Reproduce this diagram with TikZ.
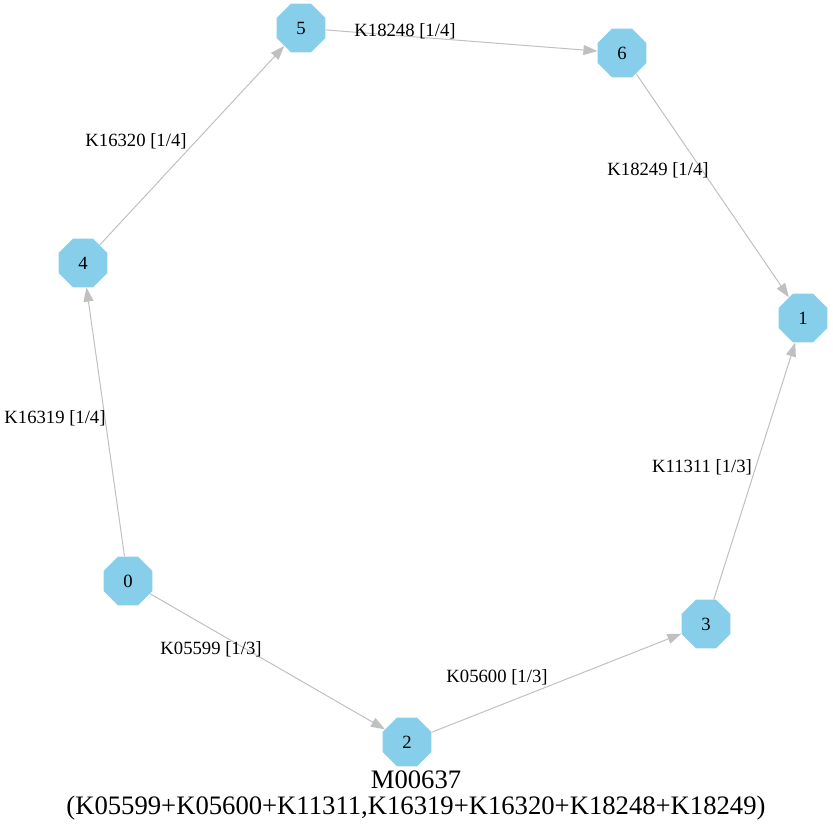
\documentclass[tikz,border=0pt]{standalone}
\usepackage{fontspec}
\setmainfont{Liberation Serif}
\usetikzlibrary{arrows.meta,shapes.geometric}
\definecolor{nodeblue}{HTML}{87CEEB}
\definecolor{edgegray}{HTML}{C0C0C0}
\tikzset{
  cpd/.style={regular polygon,regular polygon sides=8,fill=nodeblue,draw=none,
    minimum size=39.5pt,inner sep=0pt,font=\fontsize{14}{16}\selectfont},
  rxn/.style={draw=edgegray,line width=0.75pt,-{Triangle[length=10.5pt,width=7.5pt]}},
  lbl/.style={font=\fontsize{14}{16}\selectfont,inner sep=0pt}
}
\begin{document}
\begin{tikzpicture}[x=0.75pt,y=-0.75pt]
  \useasboundingbox (0,0) rectangle (832,834);
  % compounds
  \node[cpd] (n5) at (301,28) {5};
  \node[cpd] (n6) at (622,53) {6};
  \node[cpd] (n4) at (83,263) {4};
  \node[cpd] (n1) at (803,318) {1};
  \node[cpd] (n0) at (128,581) {0};
  \node[cpd] (n3) at (706,624) {3};
  \node[cpd] (n2) at (407,742) {2};

  % reactions
  \draw[rxn] (n0) -- (n4);
  \draw[rxn] (n4) -- (n5);
  \draw[rxn] (n5) -- (n6);
  \draw[rxn] (n6) -- (n1);
  \draw[rxn] (n0) -- (n2);
  \draw[rxn] (n2) -- (n3);
  \draw[rxn] (n3) -- (n1);

  \node[lbl] (l56) at (405,31) {K18248 [1/4]};
  \node[lbl] (l61) at (658,170) {K18249 [1/4]};
  \node[lbl] (l45) at (136,141) {K16320 [1/4]};
  \node[lbl] (l04) at (55,418) {K16319 [1/4]};
  \node[lbl] (l31) at (702,467) {K11311 [1/3]};
  \node[lbl] (l02) at (211,649) {K05599 [1/3]};
  \node[lbl] (l23) at (497,677) {K05600 [1/3]};

  % title
  \node[font=\fontsize{20}{21}\selectfont,inner sep=0pt] (ttl) at (416,780) {M00637};
  \node[font=\fontsize{20}{21}\selectfont,inner sep=0pt] (def) at (416,808)
    {(K05599+K05600+K11311,K16319+K16320+K18248+K18249)};
\end{tikzpicture}
\end{document}
